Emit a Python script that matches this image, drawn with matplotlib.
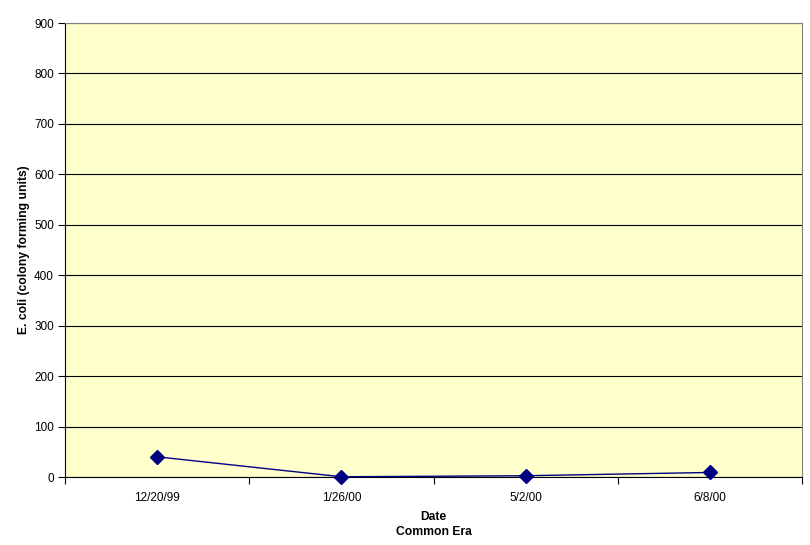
import matplotlib.pyplot as plt

dates = ["12/20/99", "1/26/00", "5/2/00", "6/8/00"]
ecoli = [40, 0.5, 2.5, 9]
y_ticks = [0, 100, 200, 300, 400, 500, 600, 700, 800, 900]

plt.rcParams['font.family'] = ['Liberation Sans', 'DejaVu Sans']

fig = plt.figure(figsize=(8.1, 5.45), dpi=100)
ax = fig.add_axes([65 / 810, 68 / 545, 737 / 810, 454 / 545])
ax.set_facecolor("#FFFFCC")

x = range(len(dates))
ax.plot(x, ecoli, color="#000080", lw=1, marker="D", markersize=7,
        markerfacecolor="#000080", markeredgecolor="#000080", clip_on=False, zorder=3)

ax.set_xlim(-0.5, len(dates) - 0.5)
ax.set_ylim(0, 900)
ax.set_yticks(y_ticks)
ax.set_xticks([i - 0.5 for i in range(len(dates) + 1)], minor=False)
ax.set_xticklabels([])
ax.set_xticks(list(x), minor=True)
ax.set_xticklabels(dates, minor=True)
ax.tick_params(axis="x", which="minor", length=0, pad=11, labelsize=8.5)
ax.tick_params(axis="x", which="major", length=5, direction="out", width=0.8)
ax.tick_params(axis="y", length=5, direction="out", width=0.8, labelsize=8.5, pad=3)

ax.yaxis.grid(True, color="black", lw=0.8)
ax.set_axisbelow(True)
for s in ["top", "right"]:
    ax.spines[s].set_color("#808080")
    ax.spines[s].set_linewidth(0.8)
for s in ["bottom", "left"]:
    ax.spines[s].set_color("black")
    ax.spines[s].set_linewidth(0.8)

ax.set_ylabel("E. coli (colony forming units)", fontsize=8.7, fontweight="bold", labelpad=3)
ax.set_xlabel("Date\nCommon Era", fontsize=8.7, fontweight="bold", labelpad=5, linespacing=1.35)

fig.savefig("out.png", dpi=100)
